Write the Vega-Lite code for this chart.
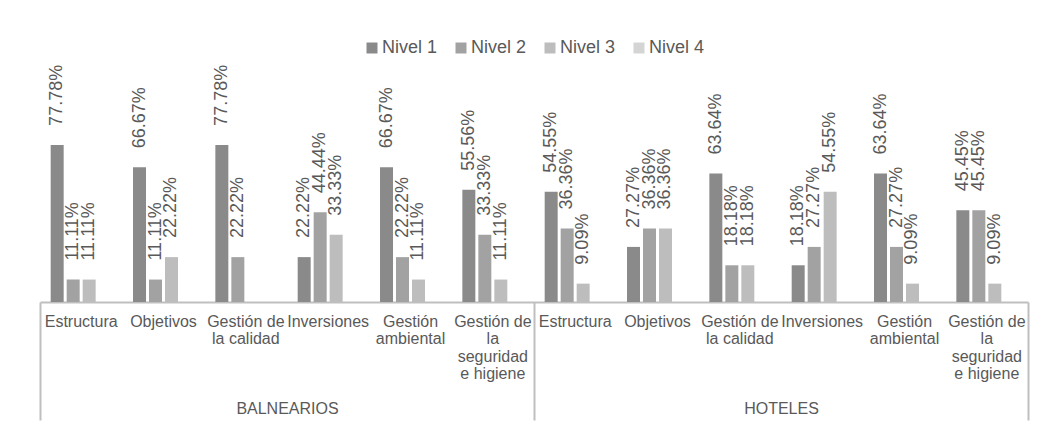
{
  "$schema": "https://vega.github.io/schema/vega-lite/v6.json",
  "autosize": {"type": "none"},
  "width": 988,
  "height": 202,
  "padding": {"left": 40, "top": 100, "right": 21, "bottom": 130},
  "background": "white",
  "config": {
    "font": "Liberation Sans",
    "view": {"stroke": null},
    "legend": {"layout": {"top": {"anchor": "middle"}}}
  },
  "data": {"values": [
    {"group": "BALNEARIOS", "cat": "B|Estructura", "level": "Nivel 1", "value": 0.7778},
    {"group": "BALNEARIOS", "cat": "B|Estructura", "level": "Nivel 2", "value": 0.1111},
    {"group": "BALNEARIOS", "cat": "B|Estructura", "level": "Nivel 3", "value": 0.1111},
    {"group": "BALNEARIOS", "cat": "B|Objetivos", "level": "Nivel 1", "value": 0.6667},
    {"group": "BALNEARIOS", "cat": "B|Objetivos", "level": "Nivel 2", "value": 0.1111},
    {"group": "BALNEARIOS", "cat": "B|Objetivos", "level": "Nivel 3", "value": 0.2222},
    {"group": "BALNEARIOS", "cat": "B|Gestión de/la calidad", "level": "Nivel 1", "value": 0.7778},
    {"group": "BALNEARIOS", "cat": "B|Gestión de/la calidad", "level": "Nivel 2", "value": 0.2222},
    {"group": "BALNEARIOS", "cat": "B|Inversiones", "level": "Nivel 1", "value": 0.2222},
    {"group": "BALNEARIOS", "cat": "B|Inversiones", "level": "Nivel 2", "value": 0.4444},
    {"group": "BALNEARIOS", "cat": "B|Inversiones", "level": "Nivel 3", "value": 0.3333},
    {"group": "BALNEARIOS", "cat": "B|Gestión/ambiental", "level": "Nivel 1", "value": 0.6667},
    {"group": "BALNEARIOS", "cat": "B|Gestión/ambiental", "level": "Nivel 2", "value": 0.2222},
    {"group": "BALNEARIOS", "cat": "B|Gestión/ambiental", "level": "Nivel 3", "value": 0.1111},
    {"group": "BALNEARIOS", "cat": "B|Gestión de/la/seguridad/e higiene", "level": "Nivel 1", "value": 0.5556},
    {"group": "BALNEARIOS", "cat": "B|Gestión de/la/seguridad/e higiene", "level": "Nivel 2", "value": 0.3333},
    {"group": "BALNEARIOS", "cat": "B|Gestión de/la/seguridad/e higiene", "level": "Nivel 3", "value": 0.1111},
    {"group": "HOTELES", "cat": "H|Estructura", "level": "Nivel 1", "value": 0.5455},
    {"group": "HOTELES", "cat": "H|Estructura", "level": "Nivel 2", "value": 0.3636},
    {"group": "HOTELES", "cat": "H|Estructura", "level": "Nivel 3", "value": 0.0909},
    {"group": "HOTELES", "cat": "H|Objetivos", "level": "Nivel 1", "value": 0.2727},
    {"group": "HOTELES", "cat": "H|Objetivos", "level": "Nivel 2", "value": 0.3636},
    {"group": "HOTELES", "cat": "H|Objetivos", "level": "Nivel 3", "value": 0.3636},
    {"group": "HOTELES", "cat": "H|Gestión de/la calidad", "level": "Nivel 1", "value": 0.6364},
    {"group": "HOTELES", "cat": "H|Gestión de/la calidad", "level": "Nivel 2", "value": 0.1818},
    {"group": "HOTELES", "cat": "H|Gestión de/la calidad", "level": "Nivel 3", "value": 0.1818},
    {"group": "HOTELES", "cat": "H|Inversiones", "level": "Nivel 1", "value": 0.1818},
    {"group": "HOTELES", "cat": "H|Inversiones", "level": "Nivel 2", "value": 0.2727},
    {"group": "HOTELES", "cat": "H|Inversiones", "level": "Nivel 3", "value": 0.5455},
    {"group": "HOTELES", "cat": "H|Gestión/ambiental", "level": "Nivel 1", "value": 0.6364},
    {"group": "HOTELES", "cat": "H|Gestión/ambiental", "level": "Nivel 2", "value": 0.2727},
    {"group": "HOTELES", "cat": "H|Gestión/ambiental", "level": "Nivel 3", "value": 0.0909},
    {"group": "HOTELES", "cat": "H|Gestión de/la/seguridad/e higiene", "level": "Nivel 1", "value": 0.4545},
    {"group": "HOTELES", "cat": "H|Gestión de/la/seguridad/e higiene", "level": "Nivel 2", "value": 0.4545},
    {"group": "HOTELES", "cat": "H|Gestión de/la/seguridad/e higiene", "level": "Nivel 3", "value": 0.0909}
  ]},
  "layer": [
    {
      "encoding": {
        "x": {
          "field": "cat", "type": "nominal",
          "scale": {
            "domain": ["B|Estructura", "B|Objetivos", "B|Gestión de/la calidad", "B|Inversiones", "B|Gestión/ambiental", "B|Gestión de/la/seguridad/e higiene",
                       "H|Estructura", "H|Objetivos", "H|Gestión de/la calidad", "H|Inversiones", "H|Gestión/ambiental", "H|Gestión de/la/seguridad/e higiene"],
            "paddingInner": 0.223, "paddingOuter": 0.1115
          },
          "axis": {
            "title": null, "ticks": false, "labelAngle": 0,
            "domain": true, "domainColor": "#bfbfbf", "domainWidth": 2,
            "labelExpr": "split(slice(datum.value, 2), '/')",
            "labelFontSize": 16, "labelColor": "#595959", "labelLineHeight": 17.5,
            "labelPadding": 11, "labelOverlap": false, "labelBound": false, "labelFlush": false
          }
        },
        "xOffset": {
          "field": "level", "type": "nominal",
          "scale": {"domain": ["Nivel 1", "Nivel 2", "Nivel 3", "Nivel 4"], "paddingInner": 0.1875, "paddingOuter": 0.094}
        },
        "y": {"field": "value", "type": "quantitative", "scale": {"domain": [0, 1]}, "axis": null}
      },
      "layer": [
        {
          "mark": {"type": "bar"},
          "encoding": {
            "color": {
              "field": "level", "type": "nominal",
              "scale": {"domain": ["Nivel 1", "Nivel 2", "Nivel 3", "Nivel 4"], "range": ["#8a8a8a", "#a2a2a2", "#bdbdbd", "#d4d4d4"]},
              "legend": {
                "title": null, "orient": "top", "direction": "horizontal", "offset": 43,
                "symbolType": "square", "symbolSize": 121, "symbolStrokeWidth": 0,
                "labelFontSize": 18, "labelColor": "#595959", "labelOffset": 1, "columnPadding": 14
              }
            }
          }
        },
        {
          "mark": {"type": "text", "angle": 270, "align": "left", "baseline": "middle", "dx": 19, "fontSize": 18, "color": "#595959"},
          "encoding": {"text": {"field": "value", "type": "quantitative", "format": ".2%"}}
        }
      ]
    },
    {
      "mark": {"type": "point", "opacity": 0},
      "encoding": {
        "x": {
          "field": "group", "type": "nominal",
          "scale": {"type": "band", "domain": ["BALNEARIOS", "HOTELES"], "paddingInner": 0, "paddingOuter": 0},
          "axis": {
            "orient": "bottom", "title": null, "labelAngle": 0, "domain": false,
            "ticks": true, "tickBand": "extent", "tickSize": 118, "tickColor": "#bfbfbf", "tickWidth": 2,
            "labelFontSize": 16, "labelColor": "#595959", "labelPadding": -20
          }
        }
      }
    }
  ],
  "resolve": {"scale": {"x": "independent"}, "axis": {"x": "independent"}}
}
